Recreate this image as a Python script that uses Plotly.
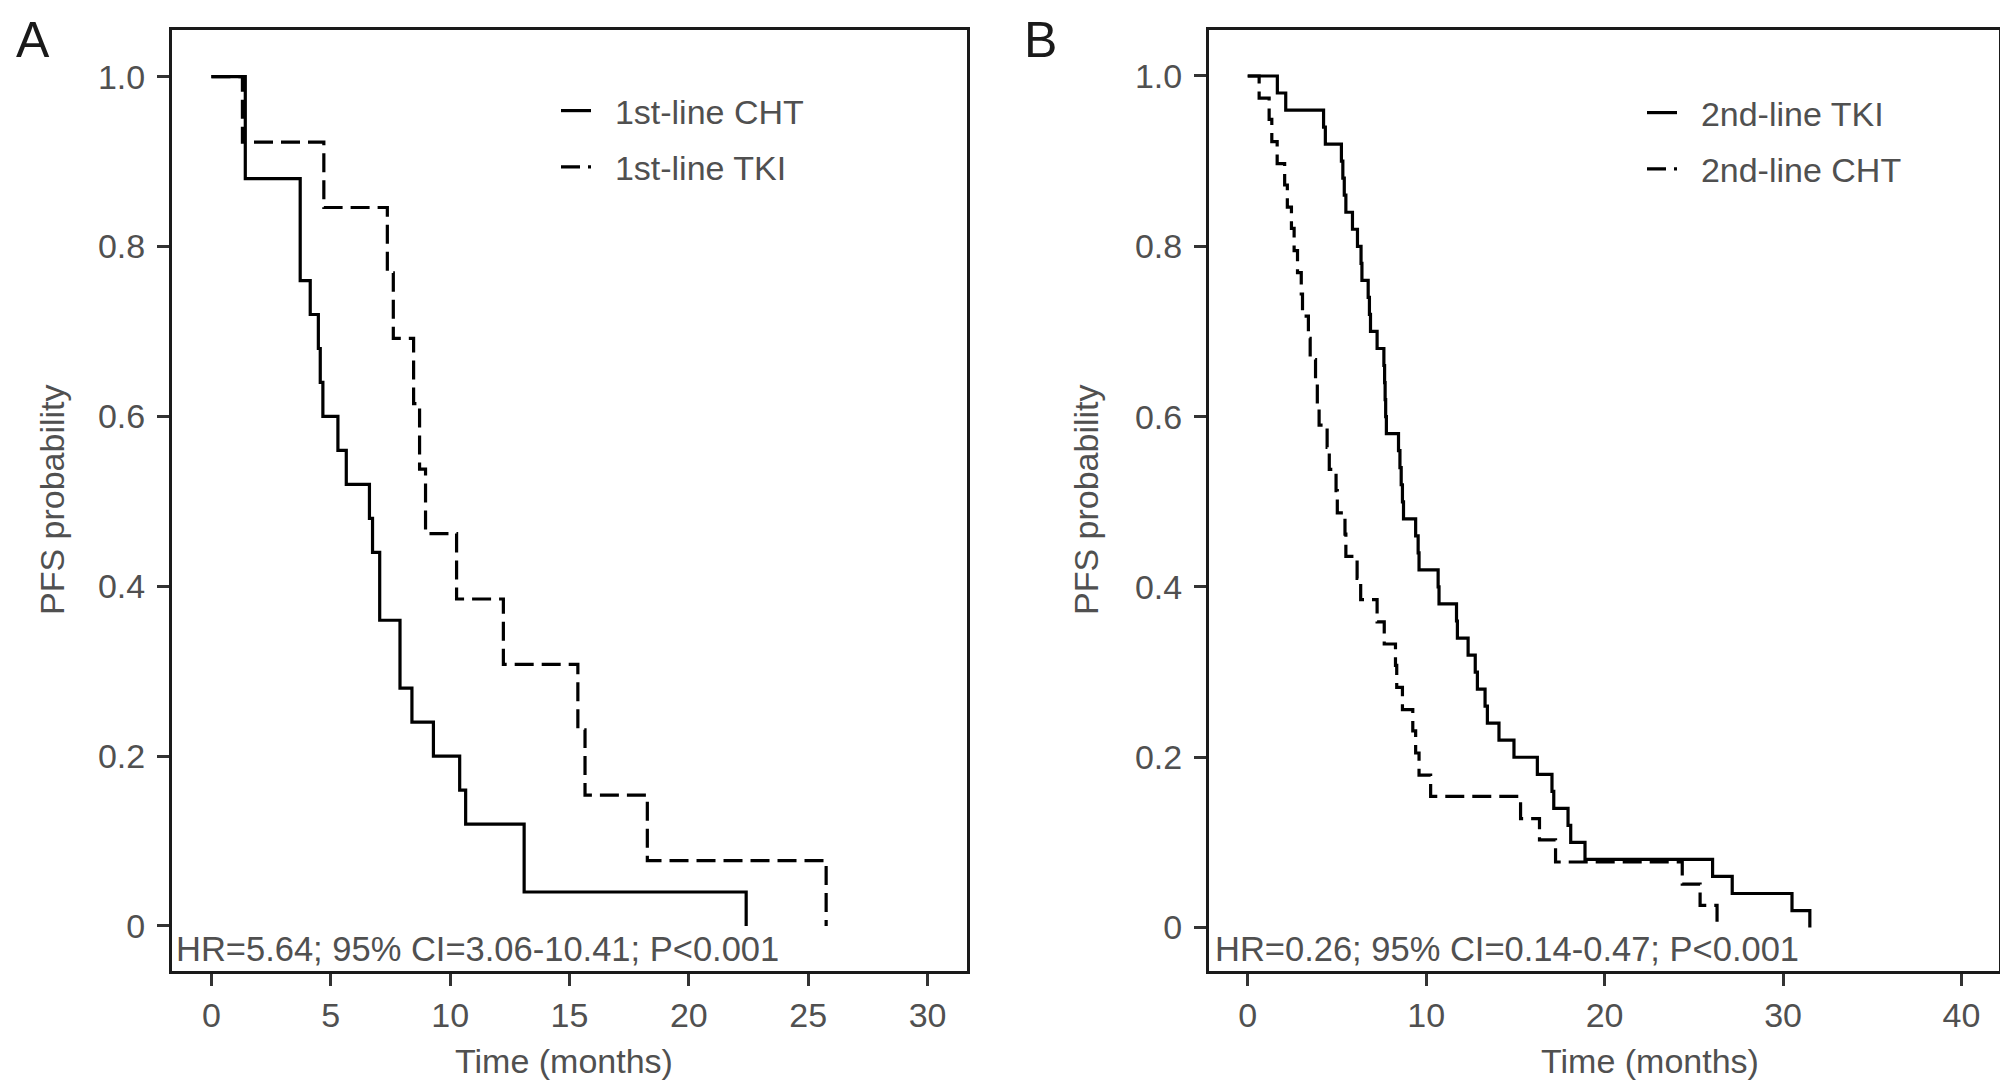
import plotly.graph_objects as go

# Panel A - first line
a_cht_time = [0, 1.42, 3.72, 4.14, 4.48, 4.56, 4.67, 5.3, 5.65, 6.62, 6.75, 7.05, 7.9, 8.4, 9.3, 10.4, 10.65, 13.1, 22.4]
a_cht_surv = [1.0, 0.88, 0.76, 0.72, 0.68, 0.64, 0.60, 0.56, 0.52, 0.48, 0.44, 0.36, 0.28, 0.24, 0.20, 0.16, 0.12, 0.04, 0.0]

a_tki_time = [0, 1.3, 4.71, 7.37, 7.62, 8.47, 8.72, 8.97, 10.27, 12.23, 15.35, 15.65, 18.26, 25.75]
a_tki_surv = [1.0, 0.923, 0.846, 0.769, 0.692, 0.615, 0.538, 0.462, 0.385, 0.308, 0.231, 0.154, 0.077, 0.0]

# Panel B - second line
b_tki_time = [0, 1.66, 2.13, 4.25, 4.35, 5.25, 5.33, 5.41, 5.5, 5.87, 6.15, 6.35, 6.4, 6.75, 6.82, 6.88,
              7.25, 7.63, 7.67, 7.7, 7.73, 7.77, 8.45, 8.53, 8.6, 8.67, 8.73, 9.41, 9.55, 9.6, 10.67,
              10.72, 11.7, 11.75, 12.35, 12.75, 12.87, 13.3, 13.43, 14.08, 14.92, 16.23, 17.05, 17.15,
              17.95, 18.1, 18.9, 26.05, 27.15, 30.5, 31.5]
b_tki_surv = [1.0, 0.98, 0.96, 0.94, 0.92, 0.90, 0.88, 0.86, 0.84, 0.82, 0.80, 0.78, 0.76, 0.74, 0.72, 0.70,
              0.68, 0.66, 0.64, 0.62, 0.60, 0.58, 0.56, 0.54, 0.52, 0.50, 0.48, 0.46, 0.44, 0.42, 0.40,
              0.38, 0.36, 0.34, 0.32, 0.30, 0.28, 0.26, 0.24, 0.22, 0.20, 0.18, 0.16, 0.14,
              0.12, 0.10, 0.08, 0.06, 0.04, 0.02, 0.0]

b_cht_time = [0, 0.64, 1.2, 1.35, 1.65, 2.07, 2.22, 2.45, 2.6, 2.79, 3.0, 3.07, 3.4, 3.5, 3.8, 3.9, 4.0,
              4.45, 4.57, 4.95, 5.02, 5.45, 5.5, 6.13, 6.33, 7.25, 7.65, 8.28, 8.35, 8.67, 9.25, 9.41,
              9.6, 10.25, 15.29, 16.35, 17.25, 24.35, 25.35, 26.3]
b_cht_surv = [1.0, 0.974, 0.949, 0.923, 0.897, 0.872, 0.846, 0.821, 0.795, 0.769, 0.744, 0.718, 0.692,
              0.667, 0.641, 0.615, 0.590, 0.564, 0.538, 0.513, 0.487, 0.462, 0.436, 0.410, 0.385, 0.359,
              0.333, 0.308, 0.282, 0.256, 0.231, 0.205, 0.179, 0.154, 0.128, 0.103, 0.077, 0.051, 0.026, 0.0]

y_ticks = [0, 0.2, 0.4, 0.6, 0.8, 1.0]
y_labels = ['0', '0.2', '0.4', '0.6', '0.8', '1.0']
a_xticks = [0, 5, 10, 15, 20, 25, 30]
b_xticks = [0, 10, 20, 30, 40]

W, H = 2008, 1084
FONT = 'Liberation Sans, Arial, Helvetica, sans-serif'
GREY = '#505050'
DASH = '19px,8px'
GAP = '\u00a0\u00a0'  # space between legend glyph and label

fig = go.Figure()

fig.add_trace(go.Scatter(x=a_cht_time, y=a_cht_surv, mode='lines', line_shape='hv',
                         line=dict(color='black', width=3.2), name=GAP + '1st-line CHT',
                         legendgroup='a1', xaxis='x', yaxis='y'))
fig.add_trace(go.Scatter(x=a_tki_time, y=a_tki_surv, mode='lines', line_shape='hv',
                         line=dict(color='black', width=3.2, dash=DASH), name=GAP + '1st-line TKI',
                         legendgroup='a2', xaxis='x', yaxis='y'))
fig.add_trace(go.Scatter(x=b_tki_time, y=b_tki_surv, mode='lines', line_shape='hv',
                         line=dict(color='black', width=3.2), name=GAP + '2nd-line TKI',
                         legendgroup='b1', legend='legend2', xaxis='x2', yaxis='y2'))
fig.add_trace(go.Scatter(x=b_cht_time, y=b_cht_surv, mode='lines', line_shape='hv',
                         line=dict(color='black', width=3.2, dash=DASH), name=GAP + '2nd-line CHT',
                         legendgroup='b2', legend='legend2', xaxis='x2', yaxis='y2'))

def px_x(v):
    return v / W

def px_y(v):
    return 1 - v / H

axis_common = dict(showgrid=False, zeroline=False, showline=True, mirror=True,
                   linecolor='#1a1a1a', linewidth=3, ticks='outside', ticklen=12,
                   tickwidth=2.5, tickcolor='#333333',
                   tickfont=dict(family=FONT, size=34, color=GREY))

ydom = [px_y(963), px_y(22)]

legend_style = dict(xanchor='left', yanchor='top', bgcolor='rgba(0,0,0,0)',
                    font=dict(family=FONT, size=34, color=GREY),
                    tracegroupgap=9, itemwidth=30)

fig.update_layout(
    width=W, height=H,
    margin=dict(l=0, r=0, t=0, b=0),
    paper_bgcolor='white', plot_bgcolor='white',
    showlegend=True,
    xaxis=dict(domain=[px_x(164), px_x(959)], range=[-1.65, 31.65], tickvals=a_xticks,
               anchor='y', **axis_common),
    yaxis=dict(domain=ydom, range=[-0.053, 1.055], tickvals=y_ticks, ticktext=y_labels,
               anchor='x', ticklabelstandoff=5, **axis_common),
    xaxis2=dict(domain=[px_x(1201), px_x(1991)], range=[-2.17, 42.1], tickvals=b_xticks,
                anchor='y2', **axis_common),
    yaxis2=dict(domain=ydom, range=[-0.051, 1.054], tickvals=y_ticks, ticktext=y_labels,
                anchor='x2', ticklabelstandoff=5, **axis_common),
    legend=dict(x=px_x(548), y=px_y(74), **legend_style),
    legend2=dict(x=px_x(1634), y=px_y(76), **legend_style),
)

annotations = [
    dict(text='A', x=px_x(25), y=px_y(32), font=dict(size=50, color='#1a1a1a')),
    dict(text='B', x=px_x(1032), y=px_y(32), font=dict(size=50, color='#1a1a1a')),
    dict(text='HR=5.64; 95% CI=3.06-10.41; P<0.001', x=px_x(166), y=px_y(941),
         xanchor='left', font=dict(size=34.5, color=GREY)),
    dict(text='HR=0.26; 95% CI=0.14-0.47; P<0.001', x=px_x(1205), y=px_y(941),
         xanchor='left', font=dict(size=34.5, color=GREY)),
    dict(text='Time (months)', x=px_x(556), y=px_y(1053), font=dict(size=34, color=GREY)),
    dict(text='Time (months)', x=px_x(1642), y=px_y(1053), font=dict(size=34, color=GREY)),
    dict(text='PFS probability', x=px_x(44), y=px_y(492), textangle=-90,
         font=dict(size=34, color=GREY)),
    dict(text='PFS probability', x=px_x(1078), y=px_y(492), textangle=-90,
         font=dict(size=34, color=GREY)),
]
for ann in annotations:
    ann.setdefault('xanchor', 'center')
    ann.setdefault('yanchor', 'middle')
    ann['font']['family'] = FONT
    fig.add_annotation(xref='paper', yref='paper', showarrow=False, **ann)

fig.write_html("out.html")
